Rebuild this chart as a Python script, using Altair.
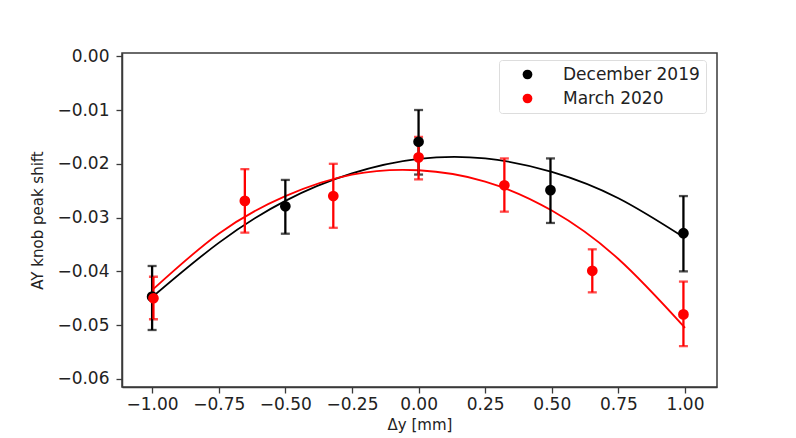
import altair as alt
import pandas as pd

# ---- data ----
series_names = ["December 2019", "March 2020"]
series_colors = ["#000000", "#ff0000"]

dec_x = [-1.00, -0.50, 0.00, 0.495, 0.994]
dec_y = [-0.0447, -0.0279, -0.0159, -0.0249, -0.0329]
dec_lo = [-0.0509, -0.0330, -0.0220, -0.0310, -0.0400]
dec_hi = [-0.0390, -0.0230, -0.0100, -0.0190, -0.0260]

mar_x = [-0.995, -0.652, -0.320, 0.00, 0.322, 0.652, 0.994]
mar_y = [-0.0450, -0.0269, -0.0260, -0.0188, -0.0240, -0.0399, -0.0480]
mar_lo = [-0.0489, -0.0328, -0.0319, -0.0229, -0.0289, -0.0439, -0.0539]
mar_hi = [-0.0410, -0.0210, -0.0200, -0.0150, -0.0190, -0.0359, -0.0419]

fit_x = [-1.00, -0.75, -0.50, -0.25, 0.00, 0.25, 0.50, 0.75, 1.00]
dec_fit = [-0.0448, -0.0347, -0.0269, -0.0218, -0.0191, -0.0190, -0.0215, -0.0264, -0.0338]
mar_fit = [-0.0435, -0.0330, -0.0260, -0.0220, -0.0212, -0.0233, -0.0287, -0.0377, -0.0505]

x_ticks = [-1.0, -0.75, -0.5, -0.25, 0.0, 0.25, 0.5, 0.75, 1.0]
y_ticks = [0.0, -0.01, -0.02, -0.03, -0.04, -0.05, -0.06]

pts = pd.DataFrame(
    [dict(series=series_names[0], x=a, y=b, lo=c, hi=d) for a, b, c, d in zip(dec_x, dec_y, dec_lo, dec_hi)]
    + [dict(series=series_names[1], x=a, y=b, lo=c, hi=d) for a, b, c, d in zip(mar_x, mar_y, mar_lo, mar_hi)]
)
fits = pd.DataFrame(
    [dict(series=series_names[0], x=a, y=b) for a, b in zip(fit_x, dec_fit)]
    + [dict(series=series_names[1], x=a, y=b) for a, b in zip(fit_x, mar_fit)]
)

FONT = "DejaVu Sans"
TXT = "#222222"

xscale = alt.Scale(domain=[-1.113, 1.12], nice=False, zero=False)
yscale = alt.Scale(domain=[-0.0615, 0.0006], nice=False, zero=False)
cscale = alt.Scale(domain=series_names, range=series_colors)

xaxis = alt.Axis(values=x_ticks, format=".2f", title="Δy [mm]", grid=False,
                 tickSize=6, labelPadding=3, titlePadding=5)
yaxis = alt.Axis(values=y_ticks, format=".2f", title="AY knob peak shift", grid=False,
                 tickSize=6, labelPadding=7, titlePadding=11)

base_pts = alt.Chart(pts)

lines = alt.Chart(fits).mark_line(strokeWidth=1.8, interpolate="natural").encode(
    x=alt.X("x:Q", scale=xscale, axis=xaxis),
    y=alt.Y("y:Q", scale=yscale, axis=yaxis),
    color=alt.Color("series:N", scale=cscale, legend=None),
    detail="series:N",
)

bars = base_pts.mark_errorbar(ticks=alt.MarkConfig(size=9), thickness=2.3).encode(
    x=alt.X("x:Q", scale=xscale),
    y=alt.Y("lo:Q", scale=yscale, title=""),
    y2="hi:Q",
    color=alt.Color("series:N", scale=cscale, legend=None),
)

dots = base_pts.mark_point(filled=True, size=115, opacity=1).encode(
    x=alt.X("x:Q", scale=xscale),
    y=alt.Y("y:Q", scale=yscale),
    color=alt.Color("series:N", scale=cscale,
                    legend=alt.Legend(title=None, orient="none", legendX=377, legendY=7,
                                      symbolType="circle", symbolSize=95,
                                      symbolOffset=14,
                                      labelFontSize=17, labelFont=FONT, labelColor=TXT,
                                      padding=6, strokeColor="#dddddd", cornerRadius=3,
                                      fillColor="white", rowPadding=6, labelOffset=27,
                                      symbolStrokeWidth=0)),
)

chart = alt.layer(lines, bars, dots).resolve_legend(color="independent").properties(
    width=595, height=334,
    autosize=alt.AutoSizeParams(type="none"),
    padding={"left": 114, "top": 45, "right": 71, "bottom": 48},
    background="white",
).configure_view(
    stroke="#3a3a3a", strokeWidth=1.5
).configure_axis(
    labelFont=FONT, titleFont=FONT, labelFontSize=17, titleFontSize=15,
    labelColor=TXT, titleColor=TXT, titleFontWeight="normal",
    domainColor="#3a3a3a", tickColor="#3a3a3a", domainWidth=1.5, tickWidth=1.3,
)

chart.save("out.html", embed_options={"renderer": "svg", "actions": False})
